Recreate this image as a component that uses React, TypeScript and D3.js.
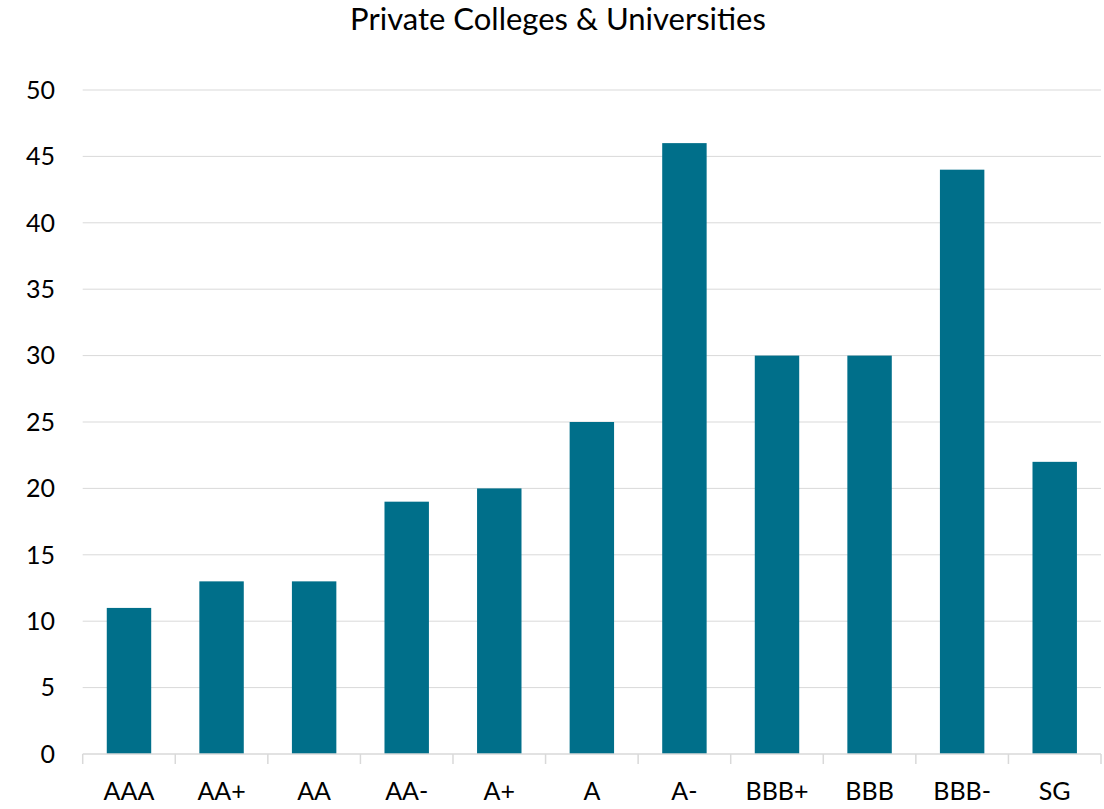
import React from "react";
import * as d3 from "d3";

const categories = ["AAA", "AA+", "AA", "AA-", "A+", "A", "A-", "BBB+", "BBB", "BBB-", "SG"];
const values = [11, 13, 13, 19, 20, 25, 46, 30, 30, 44, 22];
const yTicks = [0, 5, 10, 15, 20, 25, 30, 35, 40, 45, 50];
const title = "Private Colleges & Universities";

const W = 1104;
const H = 809;
const left = 82.7;
const right = 1101;
const top = 90;
const bottom = 754;
const FONT = "Lato, 'Open Sans', sans-serif";

export default function App() {
  const x = d3.scaleBand<string>().domain(categories).range([left, right]).paddingInner(0.52).paddingOuter(0.26);
  const xb = d3.scaleBand<string>().domain(categories).range([left, right]).padding(0);
  const y = d3.scaleLinear().domain([0, 50]).range([bottom, top]);
  return (
    <svg width={W} height={H} style={{ position: "absolute", left: 0, top: 0, background: "#fff" }}>
      <text x={558} y={30} textAnchor="middle" fontFamily={FONT} fontSize={31} fill="#000">{title}</text>
      {yTicks.map((t) => (
        <g key={t}>
          {t > 0 && <line x1={left} x2={right} y1={y(t)} y2={y(t)} stroke="#d9d9d9" strokeWidth={1} />}
          <text x={55} y={y(t)} dy="0.35em" textAnchor="end" fontFamily={FONT} fontSize={25} fill="#000">{t}</text>
        </g>
      ))}
      {categories.map((c, i) => (
        <rect key={c} x={x(c)} width={x.bandwidth()} y={y(values[i])} height={y(0) - y(values[i])} fill="#006F8A" />
      ))}
      <line x1={left} x2={right} y1={bottom} y2={bottom} stroke="#d9d9d9" strokeWidth={1.5} />
      {categories.map((c) => (
        <line key={"t" + c} x1={xb(c)} x2={xb(c)} y1={bottom} y2={bottom + 10} stroke="#d9d9d9" strokeWidth={1.5} />
      ))}
      <line x1={right} x2={right} y1={bottom} y2={bottom + 10} stroke="#d9d9d9" strokeWidth={1.5} />
      {categories.map((c) => (
        <text key={"l" + c} x={(xb(c) as number) + xb.bandwidth() / 2} y={800} textAnchor="middle" fontFamily={FONT} fontSize={25} fill="#000">{c}</text>
      ))}
    </svg>
  );
}
